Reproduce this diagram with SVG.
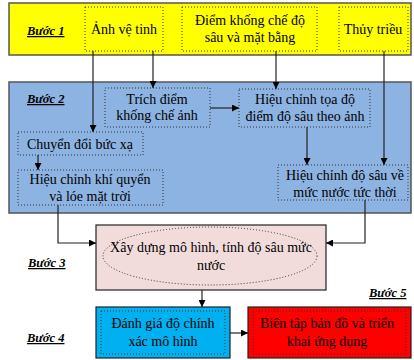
<svg xmlns="http://www.w3.org/2000/svg" width="414" height="360" viewBox="0 0 414 360">
<defs>
<marker id="ah" viewBox="0 0 10 10" refX="10" refY="5" markerWidth="7" markerHeight="7" orient="auto" markerUnits="userSpaceOnUse"><path d="M0,0 L10,5 L0,10 z" fill="#000"/></marker>
<style>
text{font-family:"Liberation Serif","Times New Roman",serif;font-size:14px;fill:#000;text-anchor:middle}
.step{font-weight:bold;font-style:italic;font-size:12.5px;text-decoration:underline;text-anchor:start}
.band{stroke:#555;stroke-width:1.5}
.dot{fill:none;stroke:#333;stroke-width:1;stroke-dasharray:1,2}
.c{fill:none;stroke:#222;stroke-width:1.2}
</style>
</defs>
<rect class="band" x="9" y="3" width="402" height="52" fill="#ffff00"/>
<rect class="band" x="9" y="82" width="402" height="131" fill="#8db3e2"/>
<g id="step1"><text class="step" x="27" y="35">Bước 1</text></g>
<g id="step2"><text class="step" x="27" y="103">Bước 2</text></g>
<g id="step3"><text class="step" x="28" y="267">Bước 3</text></g>
<g id="step4"><text class="step" x="27" y="342">Bước 4</text></g>
<g id="step5"><text class="step" x="369" y="297">Bước 5</text></g>
<g id="anh"><rect class="dot" x="85" y="7" width="78" height="44"/><text x="124" y="34">Ảnh vệ tinh</text></g>
<g id="diem"><rect class="dot" x="182" y="7" width="135" height="44"/><text x="250" y="25">Điểm khống chế độ</text><text x="250" y="42">sâu và mặt bằng</text></g>
<g id="thuy"><rect class="dot" x="339" y="7" width="69" height="44"/><text x="373" y="34">Thủy triều</text></g>
<g id="trich"><rect class="dot" x="105" y="88" width="105" height="39"/><text x="157" y="104">Trích điểm</text><text x="157" y="120">khống chế ảnh</text></g>
<g id="hctoado"><rect class="dot" x="239" y="89" width="131" height="38"/><text x="305" y="104">Hiệu chỉnh tọa độ</text><text x="305" y="121">điểm độ sâu theo ảnh</text></g>
<g id="chuyen"><rect class="dot" x="18" y="132" width="125" height="23"/><text x="80" y="149">Chuyển đổi bức xạ</text></g>
<g id="hckq"><rect class="dot" x="18" y="170" width="145" height="35"/><text x="90" y="184">Hiệu chỉnh khí quyển</text><text x="90" y="201">và lóe mặt trời</text></g>
<g id="hcds"><rect class="dot" x="278" y="165" width="130" height="35"/><text x="345" y="180">Hiệu chỉnh độ sâu về</text><text x="345" y="197">mức nước tức thời</text></g>
<g id="xaydung"><rect x="96" y="225" width="230" height="65" fill="#f2dcdb" stroke="#222" stroke-width="1.2"/><ellipse class="dot" cx="210" cy="256" rx="107" ry="29" stroke="#555"/><text x="211" y="252">Xây dựng mô hình, tính độ sâu mức</text><text x="211" y="270">nước</text></g>
<g id="danhgia"><rect x="96" y="307" width="134" height="51" fill="#00b0f0" stroke="#222" stroke-width="1.2"/><rect class="dot" x="101" y="311" width="124" height="43"/><text x="163" y="328">Đánh giá độ chính</text><text x="163" y="346">xác mô hình</text></g>
<g id="bientap"><rect x="248" y="307" width="163" height="51" fill="#ff0000" stroke="#222" stroke-width="1.2"/><rect class="dot" x="253" y="311" width="153" height="43"/><text x="327" y="328">Biên tập bản đồ và triển</text><text x="327" y="346">khai ứng dụng</text></g>
<g id="connectors">
<path class="c" d="M93,51 V132" marker-end="url(#ah)"/>
<path class="c" d="M153,51 V88" marker-end="url(#ah)"/>
<path class="c" d="M276,51 V89" marker-end="url(#ah)"/>
<path class="c" d="M384,51 V165" marker-end="url(#ah)"/>
<path class="c" d="M210,108 H239" marker-end="url(#ah)"/>
<path class="c" d="M307,127 V165" marker-end="url(#ah)"/>
<path class="c" d="M38,155 V170" marker-end="url(#ah)"/>
<path class="c" d="M58,205 V243 H96" marker-end="url(#ah)"/>
<path class="c" d="M365,200 V243 H326" marker-end="url(#ah)"/>
<path class="c" d="M202,290 V307" marker-end="url(#ah)"/>
<path class="c" d="M230,333 H248" marker-end="url(#ah)"/>
</g>
</svg>
